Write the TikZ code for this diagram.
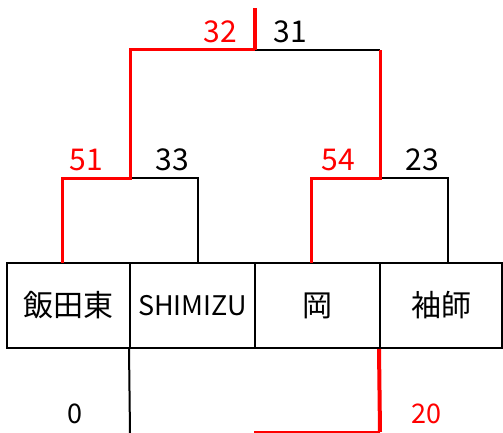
\documentclass[tikz,border=0pt]{standalone}
\usepackage{fontspec}
\setmainfont{Noto Sans CJK JP}
\tikzset{
  team/.style={draw, line width=2pt, minimum height=85pt, inner sep=0pt,
    font=\fontsize{30}{30}\selectfont},
  lose/.style={line width=2pt},
  win/.style={red, line width=3pt},
  score/.style={inner sep=0pt, font=\fontsize{30}{30}\selectfont},
}
\begin{document}
\begin{tikzpicture}[x=1pt,y=-1pt]
\useasboundingbox (0,0) rectangle (503,433);
% Các đội
\node[team, minimum width=123pt] (iida) at (68.5,305.5) {飯田東};
\node[team, minimum width=125pt, font=\fontsize{27}{27}\selectfont] (shimizu) at (192.5,305.5) {SHIMIZU};
\node[team, minimum width=125pt] (oka) at (317.5,305.5) {岡};
\node[team, minimum width=122pt] (sode) at (441,305.5) {袖師};

% Định nghĩa các điểm
\coordinate (A) at (62,263);
\coordinate (B) at (198,263);
\coordinate (C) at (311,263);
\coordinate (D) at (448,263);
\coordinate (L) at (130,178);
\coordinate (R) at (380,178);
\coordinate (T) at (255,50);
\coordinate (W) at (255,8);
\coordinate (P) at (130,433);
\coordinate (Q) at (380,432);
\coordinate (Z) at (254,432);

% Nhánh thua
\draw[lose] (A |- L) -- (L) -- (B |- L) -- (B);
\draw[lose] (C |- R) -- (R) -- (D |- R) -- (D);
\draw[lose] (T) -- (R |- T);
\draw[lose] (shimizu.south west) -- (P);

% Nhánh thắng
\draw[win] (A) -- (A |- L) -- (L) -- (L |- T) -- (T);
\draw[win] (C) -- (C |- R) -- (R) -- (R |- T);
\draw[win, line width=4pt] (T) -- (W);
\draw[win, line width=4pt] (sode.south west) -- (Q);
\draw[red, line width=2pt] (Z) -- (Q);

% Điểm số
\node[score, red] (s32) at (220,32) {32};
\node[score] (s31) at (290,32) {31};
\node[score, red] (s51) at (86,160) {51};
\node[score] (s33) at (172,160) {33};
\node[score, red] (s54) at (338,160) {54};
\node[score] (s23) at (422,160) {23};
\node[score, font=\fontsize{27}{27}\selectfont] (s0) at (75,414) {0};
\node[score, red, font=\fontsize{27}{27}\selectfont] (s20) at (426,414) {20};
\end{tikzpicture}
\end{document}
